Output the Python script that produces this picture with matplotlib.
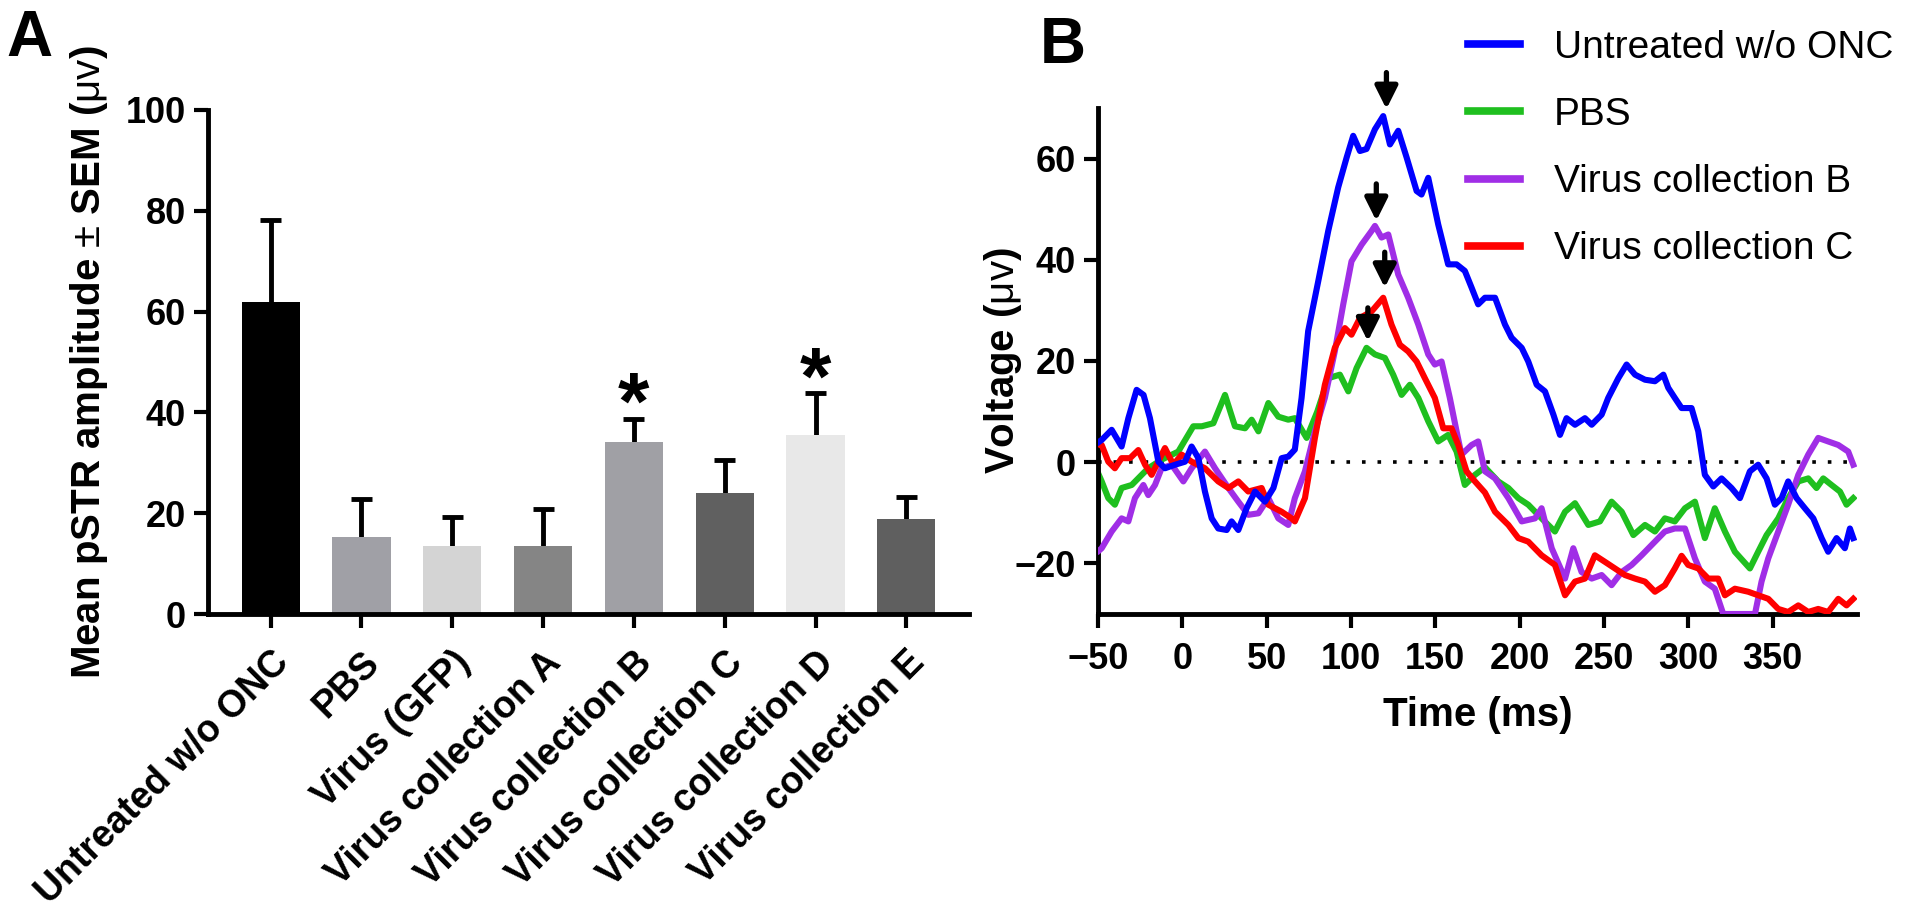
import numpy as np
import matplotlib.pyplot as plt
import matplotlib.transforms as mtransforms

plt.rcParams['font.family'] = ['Liberation Sans', 'DejaVu Sans']
plt.rcParams['mathtext.fontset'] = 'custom'
plt.rcParams['mathtext.rm'] = 'Liberation Sans'

# ---------------- panel A data ----------------
groups = ['Untreated w/o ONC', 'PBS', 'Virus (GFP)', 'Virus collection A',
          'Virus collection B', 'Virus collection C', 'Virus collection D',
          'Virus collection E']
means = [61.9, 15.3, 13.4, 13.5, 34.2, 24.0, 35.6, 18.9]
sem = [16.2, 7.6, 5.8, 7.3, 4.5, 6.5, 8.2, 4.4]
bar_colors = ['#000000', '#a0a0a6', '#d4d4d4', '#858585',
              '#a0a0a5', '#606060', '#e8e8e8', '#5f5f5f']
starred = [4, 6]

# ---------------- panel B data ----------------
blue_t = [-49.5, -47.8, -41.9, -36, -32, -27.1, -23, -19.2, -14.2, -10.3, -4.3, 1.6, 5.5, 9.5,
          13.4, 17.4, 21.3, 26.3, 29.2, 33.2, 38.1, 43.1, 49, 54, 58.9, 62.8, 66.7, 70.7,
          74.6, 80.6, 86.5, 92.4, 97.4, 101.3, 105.3, 109.2, 114.2, 119.1, 123.1, 128, 133,
          138.9, 141.8, 145.8, 151.7, 157.6, 162.6, 167.5, 171.5, 175.4, 179.4, 185.4,
          191.3, 195.2, 201.2, 205.1, 210.1, 215, 220, 223.9, 227.8, 232.8, 238.7, 242.7,
          248.6, 252.5, 258.5, 263.4, 268.4, 274.3, 280.2, 285.2, 288.1, 292, 296, 301.9,
          305.9, 309.8, 314.8, 319.7, 325.6, 330.6, 336.5, 341.4, 346.4, 351.3, 355.3,
          359.2, 364.2, 369.1, 374.1, 379, 382.9, 387.9, 392.8, 395.8, 397.8]
blue_v = [4.0, 4.4, 6.4, 3.1, 8.7, 14.3, 13.3, 8.7, 0.1, -1.2, -0.5, 0.1, 3.1, 0.8,
          -5.8, -11.1, -13.1, -13.4, -11.7, -13.4, -9.1, -5.8, -7.8, -5.1, 0.8, 1.1, 2.5, 12.7,
          25.9, 35.8, 45.7, 54.3, 60.2, 64.5, 61.5, 61.9, 65.8, 68.4, 62.8, 65.5, 60.2,
          53.6, 52.9, 56.2, 47, 39.1, 39.1, 37.8, 34.5, 31.2, 32.5, 32.5,
          27.2, 24.6, 22.6, 19.9, 15.3, 14, 9.4, 5.4, 8.7, 7.4, 8.7, 7.4,
          9.4, 12.7, 16.6, 19.3, 17.3, 16.3, 16, 17.3, 14.7, 12.7, 10.7, 10.7,
          6.1, -2.5, -4.8, -3.2, -5.1, -7.1, -1.8, -0.5, -3.2, -8.4, -7.1,
          -3.8, -7.1, -9.1, -11.1, -15, -17.7, -15, -17, -13.1, -15]

green_t = [-49.5, -47.8, -43.9, -40, -36, -30, -24.1, -20.2, -12.3, -2.4, 6.5, 11.5, 18.4,
           25.3, 31.2, 37.2, 41.1, 45.1, 51, 56.9, 62.8, 66.7, 73.7, 80, 86.5, 93.4, 98.4,
           103.3, 109.2, 114.2, 120.1, 125, 130, 134.9, 139.9, 145.8, 151.7, 157.6, 162.6,
           167.5, 173.5, 179.4, 187.3, 193.3, 199.2, 205.1, 213, 220.9, 226.9, 232.8, 240.7,
           247.6, 254.5, 260.5, 267.4, 274.3, 280.2, 286.1, 292, 298, 303.9, 309.8, 315.7,
           321.7, 327.6, 336.5, 341.4, 346.4, 353.3, 359.2, 365.2, 371.1, 376, 380, 384.9,
           389.9, 393.8, 397.8]
green_v = [-2.5, -3.8, -7.1, -8.4, -5.1, -4.5, -2.5, -1.2, 0.5, 2.1, 7.1, 7.1, 7.7,
           13.3, 7.1, 6.7, 8.4, 6.1, 11.7, 9, 8.4, 8.7, 4.8, 10, 16.6, 17.3, 14,
           18.6, 22.6, 21.3, 20.6, 17.3, 13.3, 15.3, 12.7, 8.1, 4.1, 5.4, 2.1,
           -4.5, -2.5, -1, -3.8, -5.1, -7.1, -8.4, -11.1, -13.7, -9.8, -8.1, -12.4,
           -11.7, -7.8, -9.8, -14.4, -12.4, -13.7, -11.1, -11.7, -9.1, -7.8, -15, -9.1,
           -13.7, -17.7, -21, -17.7, -14.4, -11.1, -7.1, -3.8, -3.2, -5.1, -3.2, -4.5,
           -5.8, -8.4, -7.1]

purple_t = [-49.5, -47.8, -41.9, -36, -32, -28.1, -23.1, -20.2, -16.2, -12.3, -6.3, 0.6, 5.5,
            13.4, 19.4, 27.3, 33.2, 39.1, 45.1, 51, 56.9, 62.8, 66.7, 72.7, 78.6, 84.5, 90.4,
            95.4, 100.3, 106.3, 112.2, 114.2, 118.1, 122.1, 128, 133.9, 139.9, 145.8, 149.7,
            153.7, 158.6, 162.6, 165.5, 171.5, 175.4, 179.4, 185.4, 193.3, 201.2, 209.1, 213,
            219, 226.9, 231.8, 236.7, 242.7, 248.6, 254.5, 260.5, 266.4, 272.3, 280.2, 286.1,
            292, 298, 303.9, 309.8, 315.7, 320.7, 329.6, 339.5, 343.4, 347.4, 353.3, 359.2,
            365.2, 371.1, 377, 382.9, 388.9, 394.8, 397.8]
purple_v = [-17.5, -17, -13.7, -11.1, -11.7, -7.1, -4.5, -6.5, -4.5, -1.2, -0.5, -3.8, -1.2,
            2.1, -1.2, -5.1, -7.8, -10.4, -10.1, -7.1, -11.1, -12.4, -7.1, -1.8, 6.1, 12.7, 21.9,
            31.2, 39.7, 43, 45.7, 46.7, 44.4, 45, 37.1, 32.5, 27.2, 21.3, 19.3,
            19.9, 12.7, 6.1, 1.5, 3.4, 4.1, -1.8, -3.2, -7.1, -11.7, -11.1, -9.1,
            -17, -23, -17, -21.7, -23, -22.3, -24.3, -21.7, -20.3, -18.4, -15.7, -13.7,
            -13.1, -13.1, -19, -23.6, -25, -30, -30, -30, -23.6, -19, -13.7, -8.4,
            -2.5, 1.5, 4.8, 4.1, 3.4, 2.1, -0.5]

red_t = [-49.5, -47.8, -43.9, -40, -36, -31, -26.1, -22.1, -18.2, -10.3, -5.3, -0.4, 5.5,
         13.4, 21.3, 27.3, 33.2, 39.1, 47, 51, 58.9, 64.8, 66.7, 72.7, 78.6, 84.5, 90.4,
         96.4, 100.3, 105.3, 112.2, 119.1, 124, 129, 133.9, 138.9, 143.8, 149.7, 154.7,
         159.6, 163.6, 168.5, 173.5, 179.4, 185.4, 193.3, 199.2, 205.1, 213, 220.9, 226.9,
         232.8, 238.7, 244.6, 250.6, 256.5, 262.4, 268.4, 274.3, 280.2, 286.1, 292, 296,
         299.9, 305.9, 311.8, 317.7, 321.7, 327.6, 335.5, 341.4, 347.4, 353.3, 359.2, 365.2,
         371.1, 377, 382.9, 388.9, 393.8, 397.8]
red_v = [3.5, 3.4, 0.1, -1.2, 0.8, 0.8, 2.4, -0.5, -2.5, 2.8, -0.5, 1.5, 0.1,
         -1.2, -3.8, -5.1, -3.8, -5.8, -5.1, -8.4, -9.8, -11.1, -11.7, -7.1, 4.8, 15.3, 22.6,
         26.5, 25.2, 28.5, 29.8, 32.5, 27.2, 23.2, 21.9, 19.9, 16.6, 12.7, 6.7,
         6.7, 3.4, -1.8, -3.8, -6, -9.8, -12.4, -15, -15.7, -18.4, -20.3, -26.3,
         -23.6, -23, -18.4, -19.7, -21, -22.3, -23, -23.6, -25.6, -24.3, -21, -18.5,
         -20.3, -21, -23, -23, -26.3, -25, -25.6, -26.3, -27, -29, -29.6, -28.3,
         -29.6, -29, -29.6, -27, -28.3, -27]

series_labels = ['Untreated w/o ONC', 'PBS', 'Virus collection B', 'Virus collection C']
series_colors = ['#0000ff', '#1fbf1f', '#a02ee6', '#ff0000']

# peak arrows: time, tail, tip
arrow_t = [121, 115, 120, 110]
arrow_tail = [77.0, 55.0, 41.5, 30.5]
arrow_tip = [69.8, 47.7, 34.5, 23.9]

fig = plt.figure(figsize=(19.2, 9.11), dpi=100)
W, H = 1920, 911

# ================= Panel A =================
axA = fig.add_axes([208 / W, 1 - 614 / H, (969 - 208) / W, (614 - 110) / H])
x = np.arange(len(groups))
axA.bar(x, means, width=0.64, color=bar_colors, zorder=2)
tops = np.array(means) + np.array(sem)
axA.vlines(x, means, tops, color='black', lw=3.5, zorder=1)
axA.hlines(tops, x - 0.115, x + 0.115, color='black', lw=3.5, zorder=1)
for i in starred:
    axA.text(x[i], tops[i] - 2.0, '*', ha='center', va='baseline',
             fontsize=58, fontweight='bold')

axA.set_xlim(-0.69, 7.69)
axA.set_ylim(0, 100)
axA.set_yticks(np.arange(0, 101, 20))
axA.set_xticks(x)
axA.set_xticklabels(groups, rotation=45, ha='right', rotation_mode='anchor',
                    fontsize=27, fontweight='bold')
shift = mtransforms.ScaledTranslation(-0.08, 0, fig.dpi_scale_trans)
for lab in axA.get_xticklabels():
    lab.set_transform(lab.get_transform() + shift)
for lab in axA.get_yticklabels():
    lab.set_fontsize(26)
    lab.set_fontweight('bold')
axA.set_ylabel(r'Mean pSTR amplitude $\mathrm{±}$ SEM ($\mathrm{μv}$)',
               fontsize=29, fontweight='bold')
axA.yaxis.set_label_coords(-0.129, 0.5)

# ================= Panel B =================
axB = fig.add_axes([1098 / W, 1 - 614 / H, (1857 - 1098) / W, (614 - 108) / H])
axB.axhline(0, color='black', ls=(0, (1, 3.3)), lw=2.6, zorder=1)
order = [1, 2, 3, 0]
traces = [(blue_t, blue_v), (green_t, green_v), (purple_t, purple_v), (red_t, red_v)]
handles = [None] * 4
for k in order:
    tt, vv = traces[k]
    ln, = axB.plot(tt, vv, color=series_colors[k], lw=4.4, zorder=2 + order.index(k))
    handles[k] = ln

for t, a, b in zip(arrow_t, arrow_tail, arrow_tip):
    axB.annotate('', xy=(t, b), xytext=(t, a),
                 arrowprops=dict(arrowstyle='-|>', color='black', lw=3.8,
                                 mutation_scale=34, shrinkA=0, shrinkB=0),
                 zorder=10, annotation_clip=False)

axB.set_xlim(-50, 400)
axB.set_ylim(-30, 70)
axB.set_xticks(np.arange(-50, 351, 50))
axB.set_yticks(np.arange(-20, 61, 20))
for lab in axB.get_xticklabels() + axB.get_yticklabels():
    lab.set_fontsize(26)
    lab.set_fontweight('bold')
axB.set_xlabel('Time (ms)', fontsize=29, fontweight='bold', labelpad=14)
axB.set_ylabel(r'Voltage ($\mathrm{μv}$)', fontsize=29, fontweight='bold')
axB.yaxis.set_label_coords(-0.097, 0.5)

leg = axB.legend(handles, series_labels, loc='upper left',
                 bbox_to_anchor=(1468 / W, 1 - 30 / H), bbox_transform=fig.transFigure,
                 frameon=False, fontsize=28, handlelength=1.34, handletextpad=0.87,
                 labelspacing=0.8, borderpad=0, borderaxespad=0)
for ln in leg.get_lines():
    ln.set_linewidth(5.5)

for ax in (axA, axB):
    ax.spines['top'].set_visible(False)
    ax.spines['right'].set_visible(False)
    ax.spines['left'].set_linewidth(3.5)
    ax.spines['bottom'].set_linewidth(3.5)
    ax.tick_params(width=3, length=10)
    ax.tick_params(axis='y', pad=6)
axB.tick_params(axis='x', pad=10)
axA.tick_params(axis='x', pad=12)

fig.text(6 / W, 1 - 56 / H, 'A', fontsize=46, fontweight='bold', va='baseline')
fig.text(1040 / W, 1 - 63 / H, 'B', fontsize=46, fontweight='bold', va='baseline')

fig.savefig('out.png', dpi=100)
